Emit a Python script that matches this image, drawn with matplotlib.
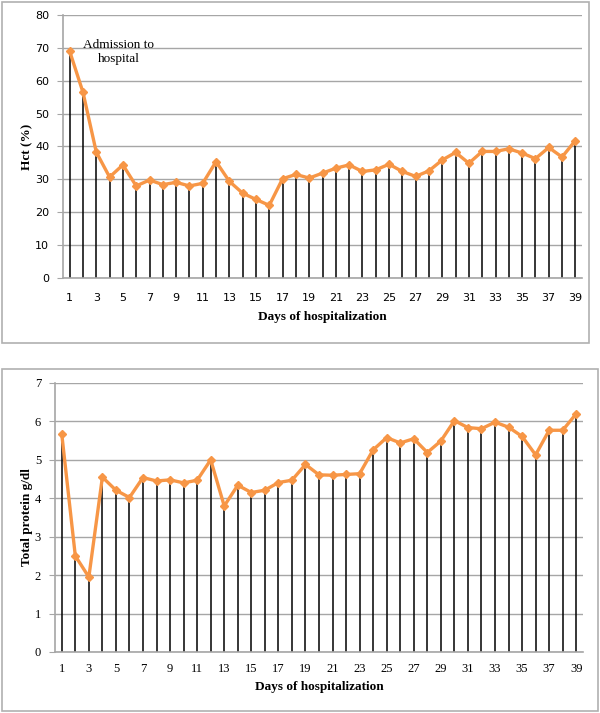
import matplotlib
matplotlib.use("Agg")
import matplotlib.pyplot as plt
from matplotlib.patches import Rectangle
import numpy as np

days = np.arange(1, 40)
hct = [69, 56.5, 38.3, 30.7, 34.4, 28, 29.8, 28.4, 29.1, 28, 28.8, 35.4, 29.4,
       25.8, 23.9, 22.1, 30.2, 31.5, 30.4, 31.9, 33.4, 34.4, 32.4, 32.9, 34.6,
       32.4, 30.9, 32.6, 35.9, 38.2, 34.9, 38.5, 38.5, 39.3, 38.0, 36.3, 39.7,
       36.8, 41.8]
protein = [5.67, 2.50, 1.95, 4.55, 4.21, 4.02, 4.54, 4.45, 4.48, 4.40, 4.47,
           5.00, 3.80, 4.34, 4.15, 4.21, 4.41, 4.47, 4.88, 4.61, 4.60, 4.62,
           4.64, 5.26, 5.58, 5.44, 5.55, 5.19, 5.49, 6.02, 5.84, 5.81, 5.98,
           5.85, 5.61, 5.13, 5.77, 5.77, 6.20]
xticks = list(range(1, 40, 2))

orange = '#F79646'
grid_c = '#a6a6a6'
serif = 'Liberation Serif'

W, H = 600, 713
fig = plt.figure(figsize=(6.0, 7.13), dpi=100)

# outer frames of the two chart boxes
def frame(x0, y0, x1, y1):
    fig.patches.append(Rectangle((x0 / W, 1 - y1 / H), (x1 - x0) / W, (y1 - y0) / H,
                                 transform=fig.transFigure, fill=False,
                                 edgecolor='#b0b0b0', lw=1.2))

frame(2, 2, 589, 343)
frame(2, 369, 598, 711)

def panel(rect, y, ymax, nstep, ylabel, tickfont, ticksize, tpad, ylab_x, xlab_y):
    ax = fig.add_axes(rect)
    ax.set_xlim(0.5, 39.5)
    ax.set_ylim(0, ymax)
    ax.set_yticks(np.linspace(0, ymax, nstep + 1))
    ax.yaxis.grid(True, color=grid_c, lw=1)
    ax.set_axisbelow(True)
    ax.vlines(days, 0, y, color='black', lw=1.1, zorder=2)
    ax.plot(days, y, color=orange, lw=2.4, marker='D', ms=4.5,
            mfc=orange, mec=orange, zorder=3)
    ax.set_xticks(xticks)
    for s in ['top', 'right']:
        ax.spines[s].set_visible(False)
    for s in ['left', 'bottom']:
        ax.spines[s].set_color(grid_c)
        ax.spines[s].set_linewidth(1.2)
    ax.tick_params(axis='x', length=0, pad=tpad)
    ax.tick_params(axis='y', length=4, color=grid_c, pad=6)
    for lab in ax.get_xticklabels() + ax.get_yticklabels():
        lab.set_fontfamily(tickfont)
        lab.set_fontsize(ticksize)
    ax.set_xlabel('Days of hospitalization', fontfamily=serif, fontweight='bold',
                  fontsize=9.5, va='center')
    ax.set_ylabel(ylabel, fontfamily=serif, fontweight='bold', fontsize=9.5,
                  va='center')
    ax.yaxis.set_label_coords(ylab_x, 0.5)
    ax.xaxis.set_label_coords(0.5, xlab_y)
    return ax

ax1 = panel([63 / W, 1 - 278 / H, 519 / W, 263 / H], hct, 80, 8, 'Hct (%)',
            'DejaVu Sans', 8, 11, (27 - 63) / 519, (278 - 317) / 263)
ax1.text(4.7, 68.8, 'Admission to\nhospital', fontfamily=serif, fontsize=9.5,
         ha='center', va='center', linespacing=1.2)

ax2 = panel([55 / W, 1 - 652 / H, 528 / W, 269 / H], protein, 7, 7,
            'Total protein g/dl', serif, 9, 8, (27 - 55) / 528, (652 - 687) / 269)

fig.savefig('out.png', dpi=100)
